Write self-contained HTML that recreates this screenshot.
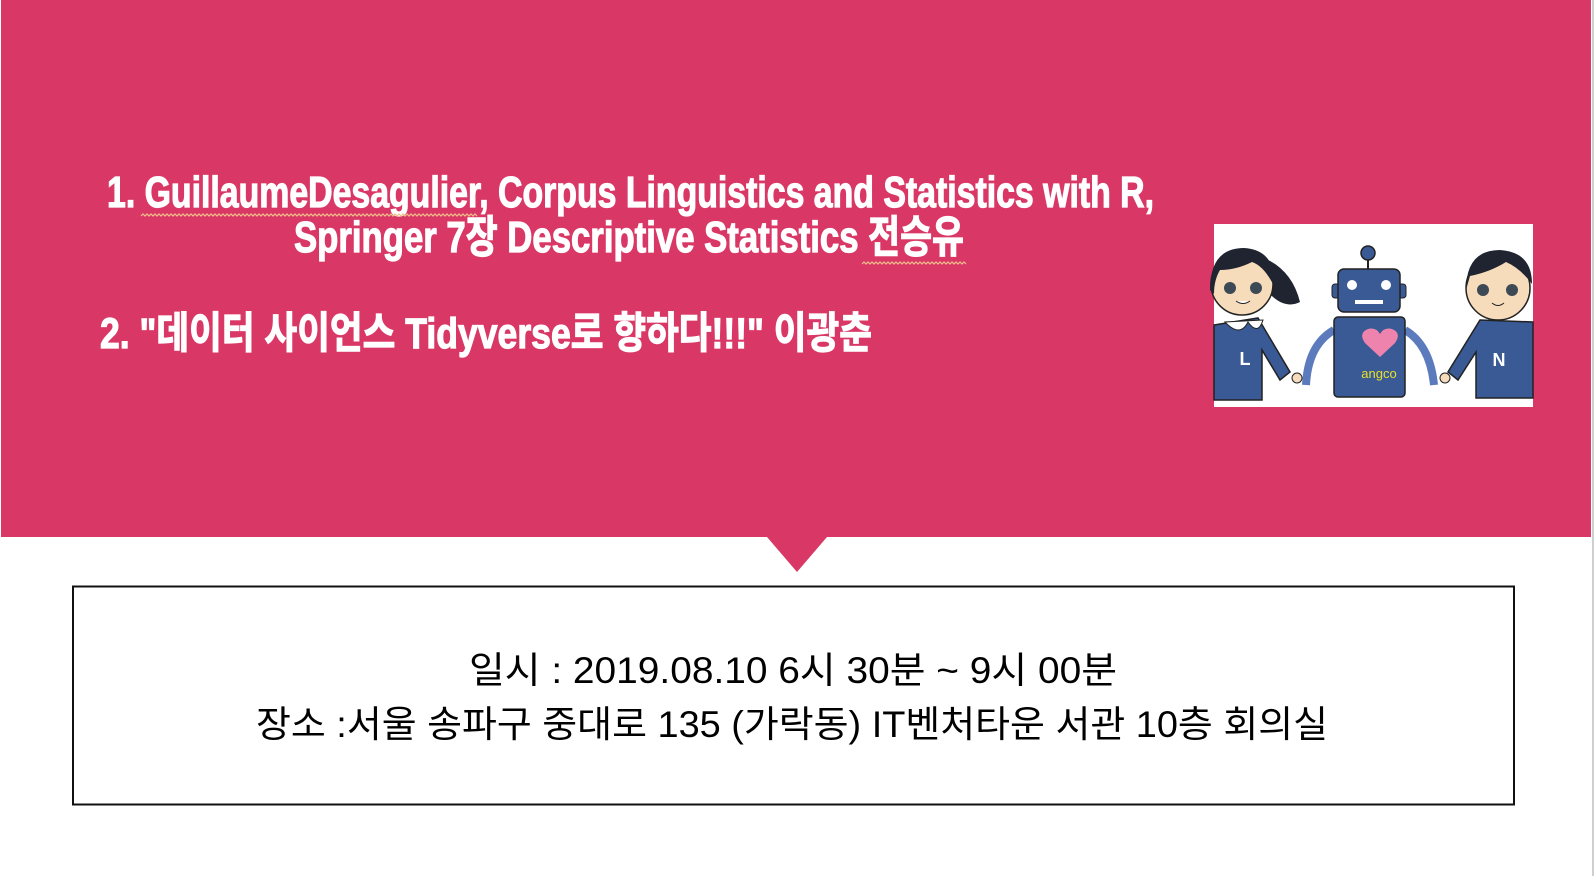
<!DOCTYPE html>
<html><head><meta charset="utf-8"><style>
html,body{margin:0;padding:0;background:#fff;}
body{width:1594px;height:876px;overflow:hidden;position:relative;}
svg{position:absolute;left:0;top:0;}
</style></head><body>
<svg width="1594" height="876" viewBox="0 0 1594 876">
  <rect x="0" y="0" width="1594" height="876" fill="#fff"/>
  <rect x="1" y="0" width="1590" height="537" fill="#D93866"/>
  <rect x="1592" y="0" width="2" height="876" fill="#cfcfcf"/>
  <polygon points="767,537 827,537 797,572" fill="#D93866"/>

  <g font-family="'Liberation Sans','Noto Sans CJK KR',sans-serif" font-weight="bold" fill="#fff" stroke="#fff" stroke-width="1.2">
    <text x="107" y="207" font-size="44" textLength="1047" lengthAdjust="spacingAndGlyphs">1. GuillaumeDesagulier, Corpus Linguistics and Statistics with R,</text>
    <text x="294" y="252" font-size="44" textLength="670" lengthAdjust="spacingAndGlyphs">Springer 7장 Descriptive Statistics 전승유</text>
    <text x="100" y="348" font-size="43" textLength="772" lengthAdjust="spacingAndGlyphs">2. "데이터 사이언스 Tidyverse로 향하다!!!" 이광춘</text>
  </g>
  <polyline fill="none" stroke="#f0c08a" stroke-width="1.2" points="141,216 143,214 145,216 147,214 149,216 151,214 153,216 155,214 157,216 159,214 161,216 163,214 165,216 167,214 169,216 171,214 173,216 175,214 177,216 179,214 181,216 183,214 185,216 187,214 189,216 191,214 193,216 195,214 197,216 199,214 201,216 203,214 205,216 207,214 209,216 211,214 213,216 215,214 217,216 219,214 221,216 223,214 225,216 227,214 229,216 231,214 233,216 235,214 237,216 239,214 241,216 243,214 245,216 247,214 249,216 251,214 253,216 255,214 257,216 259,214 261,216 263,214 265,216 267,214 269,216 271,214 273,216 275,214 277,216 279,214 281,216 283,214 285,216 287,214 289,216 291,214 293,216 295,214 297,216 299,214 301,216 303,214 305,216 307,214 309,216 311,214 313,216 315,214 317,216 319,214 321,216 323,214 325,216 327,214 329,216 331,214 333,216 335,214 337,216 339,214 341,216 343,214 345,216 347,214 349,216 351,214 353,216 355,214 357,216 359,214 361,216 363,214 365,216 367,214 369,216 371,214 373,216 375,214 377,216 379,214 381,216 383,214 385,216 387,214 389,216 391,214 393,216 395,214 397,216 399,214 401,216 403,214 405,216 407,214 409,216 411,214 413,216 415,214 417,216 419,214 421,216 423,214 425,216 427,214 429,216 431,214 433,216 435,214 437,216 439,214 441,216 443,214 445,216 447,214 449,216 451,214 453,216 455,214 457,216 459,214 461,216 463,214 465,216 467,214 469,216 471,214 473,216 475,214 477,216"/>
  <polyline fill="none" stroke="#f0c08a" stroke-width="1.2" points="862,264 864,262 866,264 868,262 870,264 872,262 874,264 876,262 878,264 880,262 882,264 884,262 886,264 888,262 890,264 892,262 894,264 896,262 898,264 900,262 902,264 904,262 906,264 908,262 910,264 912,262 914,264 916,262 918,264 920,262 922,264 924,262 926,264 928,262 930,264 932,262 934,264 936,262 938,264 940,262 942,264 944,262 946,264 948,262 950,264 952,262 954,264 956,262 958,264 960,262 962,264 964,262 966,264"/>

  <g>
    <rect x="1214" y="224" width="319" height="183" fill="#fff"/>
    <path d="M1214,325 L1258,318 L1290,372 L1280,380 L1262,350 L1262,400 L1214,400 Z" fill="#3a5a96" stroke="#222" stroke-width="1.5"/>
    <path d="M1225,322 Q1240,338 1248,322 Q1258,336 1263,320 Z" fill="#fff" stroke="#222"/>
    <path d="M1264,258 Q1292,270 1300,302 Q1284,310 1268,292 Z" fill="#1f2430"/>
    <circle cx="1242" cy="284" r="31" fill="#f7dcbc" stroke="#222" stroke-width="1.5"/>
    <path d="M1210,290 Q1210,248 1244,248 Q1276,250 1274,286 Q1264,266 1252,262 Q1236,270 1220,270 Q1214,280 1214,294 Z" fill="#1f2430"/>
    <circle cx="1230" cy="288" r="6" fill="#3d4a55"/><circle cx="1256" cy="288" r="6" fill="#3d4a55"/>
    <path d="M1236,301 Q1243,306 1250,301" fill="#fff" stroke="#222"/>
    <text x="1245" y="365" font-family="'Liberation Sans',sans-serif" font-weight="bold" font-size="18" fill="#fff" text-anchor="middle">L</text>
    <circle cx="1297" cy="378" r="5" fill="#f7dcbc" stroke="#222"/>
    <line x1="1368" y1="256" x2="1368" y2="269" stroke="#222" stroke-width="2"/>
    <circle cx="1368" cy="253" r="7" fill="#3a5a96" stroke="#222" stroke-width="1.5"/>
    <rect x="1332" y="284" width="8" height="14" rx="3" fill="#3a5a96" stroke="#222"/>
    <rect x="1398" y="284" width="8" height="14" rx="3" fill="#3a5a96" stroke="#222"/>
    <rect x="1338" y="269" width="62" height="43" rx="6" fill="#3a5a96" stroke="#222" stroke-width="1.5"/>
    <circle cx="1352" cy="285" r="5" fill="#fff"/><circle cx="1386" cy="285" r="5" fill="#fff"/>
    <rect x="1355" y="300" width="28" height="4" fill="#fff"/>
    <path d="M1334,330 Q1308,345 1306,385" fill="none" stroke="#5b7bbd" stroke-width="8"/>
    <path d="M1405,330 Q1430,345 1434,385" fill="none" stroke="#5b7bbd" stroke-width="8"/>
    <rect x="1334" y="317" width="71" height="80" rx="4" fill="#3a5a96" stroke="#222" stroke-width="1.5"/>
    <path d="M1380,357 L1365,343 Q1358,333 1368,329 Q1376,327 1380,334 Q1384,327 1392,329 Q1402,333 1395,343 Z" fill="#ee84ad"/>
    <text x="1379" y="378" font-family="'Liberation Sans',sans-serif" font-size="13" fill="#e7e02a" text-anchor="middle">angco</text>
    <path d="M1533,322 L1480,320 L1448,372 L1458,380 L1476,352 L1476,398 L1533,398 Z" fill="#3a5a96" stroke="#222" stroke-width="1.5"/>
    <circle cx="1498" cy="288" r="32" fill="#f7dcbc" stroke="#222" stroke-width="1.5"/>
    <path d="M1466,290 Q1466,250 1500,250 Q1532,252 1532,284 Q1520,268 1506,262 Q1490,272 1470,276 Z" fill="#1f2430"/>
    <circle cx="1483" cy="290" r="6" fill="#3d4a55"/><circle cx="1512" cy="290" r="6" fill="#3d4a55"/>
    <path d="M1492,303 Q1498,308 1504,303" fill="none" stroke="#222"/>
    <text x="1499" y="366" font-family="'Liberation Sans',sans-serif" font-weight="bold" font-size="18" fill="#fff" text-anchor="middle">N</text>
    <circle cx="1445" cy="378" r="5" fill="#f7dcbc" stroke="#222"/>
  </g>

  <rect x="73" y="586.5" width="1441" height="218" fill="#fff" stroke="#111" stroke-width="2"/>
  <g font-family="'Liberation Sans','Noto Sans CJK KR',sans-serif" fill="#000" text-anchor="middle">
    <text x="793" y="683" font-size="37" textLength="648" lengthAdjust="spacingAndGlyphs">일시 : 2019.08.10 6시 30분 ~ 9시 00분</text>
    <text x="792" y="737" font-size="37" textLength="1072" lengthAdjust="spacingAndGlyphs">장소 :서울 송파구 중대로 135 (가락동) IT벤처타운 서관 10층 회의실</text>
  </g>
</svg>
</body></html>
